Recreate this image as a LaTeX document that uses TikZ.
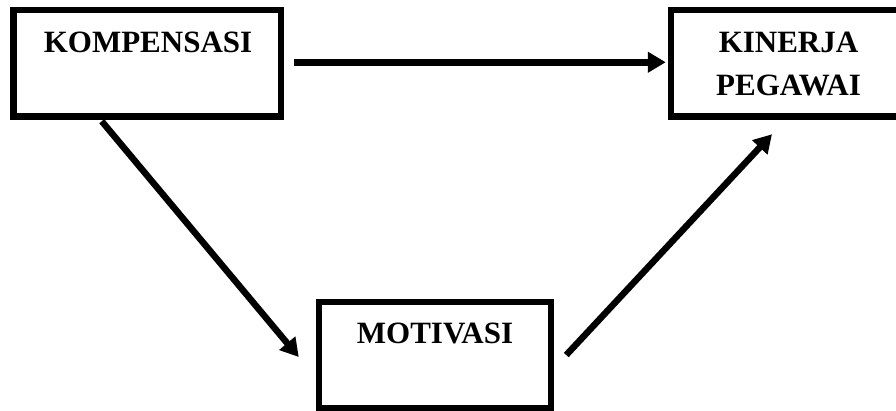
\documentclass[tikz,border=0pt]{standalone}
\usepackage{fontspec}
\setmainfont{Liberation Serif}
\usetikzlibrary{arrows.meta,calc}
\tikzset{
  box/.style={draw=black, line width=6.5pt, inner sep=0pt, fill=white},
  lbl/.style={font=\fontsize{31}{37}\selectfont\bfseries, anchor=base, inner sep=0pt},
  conn/.style={draw=black, line width=6.5pt, -{Triangle[length=18pt,width=20pt]}}
}
\begin{document}
\begin{tikzpicture}[x=1pt,y=-1pt]
\useasboundingbox (0,0) rectangle (896,410);
\node[box, minimum width=267.5pt, minimum height=106.5pt] (komp) at (147.25,63.25) {};
\node[box, minimum width=235pt, minimum height=106.5pt] (kin) at (788.5,63.25) {};
\node[box, minimum width=232pt, minimum height=106pt] (moti) at (435,355) {};
\node[lbl] (tkomp) at (148,52.5) {KOMPENSASI};
\node[lbl] (tkin1) at (788.5,52.5) {KINERJA};
\node[lbl] (tkin2) at (788.5,95) {PEGAWAI};
\node[lbl] (tmoti) at (435,343) {MOTIVASI};
\draw[conn] ($(komp.east)+(10,-1)$) -- ($(kin.west)+(-2,-1)$);
\draw[conn] ($(komp.south west)+(91.5,1.5)$) -- ($(moti.west)+(-17,2)$);
\draw[conn] ($(moti.east)+(12,0)$) -- ($(kin.south)+(-16.5,14.5)$);
\end{tikzpicture}
\end{document}
